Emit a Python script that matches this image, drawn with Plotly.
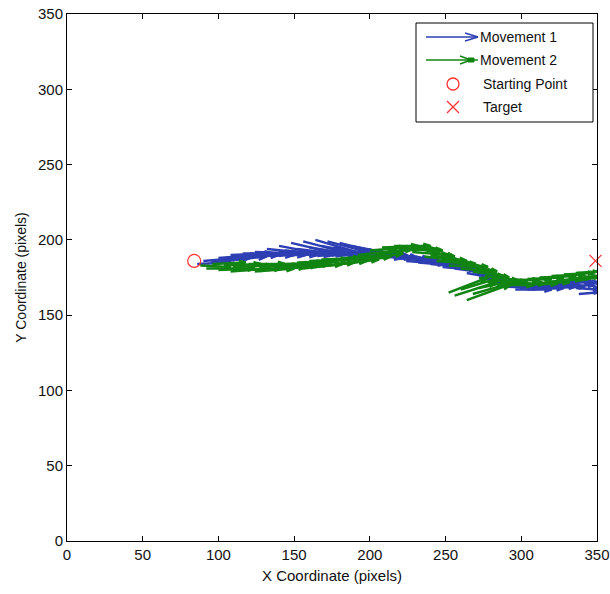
import plotly.graph_objects as go

# ---------------- data ----------------
# Movement 1 (blue) quiver: base points and vectors (data units)
m1_x = [86, 90, 95, 100, 104, 108, 112, 116, 120, 124, 128, 132, 136,
        140, 144, 148, 152, 156, 160, 164, 168, 172, 176, 180, 184, 188, 192, 196, 200,
        204, 208, 212, 216, 220, 224, 228, 232, 236, 240, 244, 248, 252, 256,
        260, 264, 268, 272, 276, 280, 284, 288,
        292, 296, 300, 304, 308, 312, 316, 320, 324, 328, 332, 336, 338, 340, 342]
m1_y = [184, 186, 185, 188, 186, 190, 188, 191, 189, 192, 190, 194, 191,
        196, 193, 198, 194, 199, 195, 200, 196, 199, 195, 198, 193, 196, 191, 194, 190,
        192, 189, 191, 188, 190, 186, 189, 185, 187, 184, 186, 182, 184, 181,
        182, 178, 179, 175, 176, 172, 173, 169,
        171, 167, 170, 167, 170, 168, 171, 168, 171, 169, 172, 168, 164, 175, 171]
m1_u = [22, 24, 26, 26, 28, 28, 28, 30, 30, 30, 30, 30, 30,
        32, 32, 34, 32, 34, 32, 34, 32, 34, 32, 32, 30, 30, 30, 30, 28,
        28, 28, 28, 26, 26, 26, 26, 24, 24, 24, 24, 22, 22, 22,
        22, 22, 24, 24, 24, 24, 24, 24,
        24, 24, 24, 24, 24, 24, 22, 22, 22, 20, 18, 14, 12, 10, 10]
m1_v = [1, 2, 3, 2, 3, 1, 2, 0, 1, -1, 0, -3, -1,
        -6, -3, -8, -4, -9, -5, -10, -6, -9, -6, -8, -4, -6, -3, -5, -2,
        -4, -2, -4, -2, -4, -2, -4, -2, -3, -2, -4, -2, -4, -3,
        -5, -4, -6, -4, -6, -3, -4, -1,
        -2, 0, -1, 1, 0, 1, 0, 1, 1, 1, 0, -1, 1, -4, -3]

# Movement 2 (green) quiver
m2_x = [88, 92, 96, 100, 104, 108, 112, 116, 120, 124, 128, 132, 136, 140, 144, 148,
        152, 156, 160, 164, 168, 172, 176, 180, 184, 188, 192, 196,
        200, 204, 208, 212, 216, 220, 224, 228, 232, 236, 240, 244,
        248, 252, 256, 260, 264, 268, 272, 276,
        252, 256, 260, 264, 268, 272,
        280, 284, 288, 292, 296, 300, 304, 308, 312, 316, 320, 324, 328, 332, 336, 338]
m2_y = [183, 181, 184, 180, 183, 179, 182, 180, 184, 179, 182, 180, 183, 181, 184, 182,
        185, 181, 186, 182, 187, 183, 186, 184, 188, 185, 190, 187,
        193, 190, 195, 192, 196, 193, 196, 192, 194, 189, 190, 186,
        186, 183, 185, 181, 183, 179, 180, 176,
        165, 163, 167, 160, 164, 168,
        173, 170, 174, 171, 173, 170, 174, 171, 175, 172, 176, 173, 177, 174, 178, 173]
m2_u = [20, 22, 22, 24, 24, 24, 24, 26, 24, 26, 26, 26, 26, 26, 26, 26,
        26, 26, 26, 26, 26, 26, 26, 26, 26, 26, 26, 26,
        24, 24, 24, 24, 24, 24, 24, 24, 24, 24, 24, 24,
        22, 22, 22, 22, 20, 20, 20, 22,
        26, 28, 26, 30, 28, 24,
        24, 24, 24, 24, 24, 24, 24, 24, 24, 24, 22, 22, 20, 18, 14, 12]
m2_v = [-1, 0, 1, 1, 1, 2, 1, 1, 0, 2, 1, 2, 1, 2, 1, 2,
        1, 3, 1, 3, 1, 3, 2, 3, 2, 4, 3, 4,
        2, 4, 1, 3, 0, 1, -3, -2, -5, -3, -4, -2,
        -2, -1, -3, -2, -4, -3, -5, -3,
        10, 9, 8, 11, 8, 5,
        -1, 0, -1, 0, 1, 1, 1, 1, 1, 2, 1, 2, 1, 2, 1, 2]

start_pt = (84, 186)
target_pt = (349, 186)

x_ticks = [0, 50, 100, 150, 200, 250, 300, 350]
y_ticks = [0, 50, 100, 150, 200, 250, 300, 350]

BLUE = "#2e3fb4"
GREEN = "#118411"
RED = "#ff3030"

ALPHA = 0.2
BETA = 0.3


def quiver_xy(xs, ys, us, vs):
    px, py = [], []
    for x, y, u, v in zip(xs, ys, us, vs):
        tx, ty = x + u, y + v
        px += [x, tx, None]
        py += [y, ty, None]
        px += [tx - ALPHA * (u + BETA * v), tx, tx - ALPHA * (u - BETA * v), None]
        py += [ty - ALPHA * (v - BETA * u), ty, ty - ALPHA * (v + BETA * u), None]
    return px, py


fig = go.Figure()

bx, by = quiver_xy(m1_x, m1_y, m1_u, m1_v)
fig.add_trace(go.Scatter(x=bx, y=by, mode="lines", name="Movement 1",
                         line=dict(color=BLUE, width=2.5), showlegend=False, hoverinfo="skip"))
gx, gy = quiver_xy(m2_x, m2_y, m2_u, m2_v)
fig.add_trace(go.Scatter(x=gx, y=gy, mode="lines", name="Movement 2",
                         line=dict(color=GREEN, width=2.5), showlegend=False, hoverinfo="skip"))
fig.add_trace(go.Scatter(x=[start_pt[0]], y=[start_pt[1]], mode="markers", name="Starting Point",
                         marker=dict(symbol="circle-open", size=13, color=RED, line=dict(width=1.2)),
                         showlegend=False, cliponaxis=False))
fig.add_trace(go.Scatter(x=[target_pt[0]], y=[target_pt[1]], mode="markers", name="Target",
                         marker=dict(symbol="x-thin-open", size=12, color=RED, line=dict(width=1.2, color=RED)),
                         showlegend=False, cliponaxis=False))

# ------------- layout -------------
FIG_W, FIG_H = 610, 594
L, R, T, B = 67, 597, 14, 541   # plot area in pixels


def pp(px, py):
    return (px - L) / (R - L), (B - py) / (B - T)


shapes = []


def pline(x0, y0, x1, y1, color, width=1.2):
    a = pp(x0, y0)
    b = pp(x1, y1)
    shapes.append(dict(type="line", xref="paper", yref="paper", x0=a[0], y0=a[1], x1=b[0], y1=b[1],
                       line=dict(color=color, width=width)))


bx0, by0 = pp(416, 122)
bx1, by1 = pp(593, 23)
shapes.append(dict(type="rect", xref="paper", yref="paper", x0=bx0, y0=by0, x1=bx1, y1=by1,
                   line=dict(color="black", width=1), fillcolor="white", layer="above"))

rows = [37, 60, 84, 107]
# Movement 1 glyph
pline(426, rows[0], 478, rows[0], BLUE, 1.5)
pline(465, rows[0] - 4, 478, rows[0], BLUE, 1.5)
pline(465, rows[0] + 4, 478, rows[0], BLUE, 1.5)
# Movement 2 glyph
pline(426, rows[1], 478, rows[1], GREEN, 1.5)
pline(460, rows[1] - 4, 471, rows[1], GREEN, 1.5)
pline(460, rows[1] + 4, 471, rows[1], GREEN, 1.5)
sq0 = pp(468, rows[1] + 2)
sq1 = pp(474, rows[1] - 2)
shapes.append(dict(type="rect", xref="paper", yref="paper", x0=sq0[0], y0=sq0[1], x1=sq1[0], y1=sq1[1],
                   line=dict(color=GREEN, width=1), fillcolor=GREEN))
# Starting point glyph
c0 = pp(447, rows[2] + 6)
c1 = pp(459, rows[2] - 6)
shapes.append(dict(type="circle", xref="paper", yref="paper", x0=c0[0], y0=c0[1], x1=c1[0], y1=c1[1],
                   line=dict(color=RED, width=1.3)))
# Target glyph
pline(447, rows[3] - 6, 459, rows[3] + 6, RED, 1.2)
pline(447, rows[3] + 6, 459, rows[3] - 6, RED, 1.2)

FONT = "Liberation Sans, Arial, sans-serif"
annotations = []
labels = [("Movement 1", 478), ("Movement 2", 478), ("Starting Point", 481), ("Target", 481)]
for (txt, xpx), ypx in zip(labels, rows):
    ax_, ay_ = pp(xpx, ypx)
    annotations.append(dict(x=ax_, y=ay_, xref="paper", yref="paper", text=txt, showarrow=False,
                            xanchor="left", yanchor="middle",
                            font=dict(family=FONT, size=14, color="#111")))

axis_common = dict(range=[0, 350], showgrid=False, zeroline=False, showline=True, linecolor="black",
                   linewidth=1, mirror="ticks", ticks="inside", ticklen=5, tickcolor="black",
                   automargin=False, ticklabeloverflow="allow",
                   tickfont=dict(family=FONT, size=15, color="#111"))

fig.update_layout(
    width=FIG_W, height=FIG_H,
    margin=dict(l=L, r=FIG_W - R, t=T, b=FIG_H - B, autoexpand=False),
    paper_bgcolor="white", plot_bgcolor="white",
    xaxis=dict(**axis_common, tickvals=x_ticks, ticktext=[str(v) for v in x_ticks],
               title=dict(text="X Coordinate (pixels)", standoff=8,
                          font=dict(family=FONT, size=15, color="#111"))),
    yaxis=dict(**axis_common, tickvals=y_ticks, ticktext=[str(v) for v in y_ticks],
               title=dict(text="Y Coordinate (pixels)", standoff=8,
                          font=dict(family=FONT, size=14, color="#111"))),
    shapes=shapes,
    annotations=annotations,
    showlegend=False,
)

fig.write_html(
    "out.html",
    config={"displayModeBar": False},
    post_script="document.body.style.margin='0';document.body.style.overflow='hidden';"
                "document.documentElement.style.overflow='hidden';",
)
